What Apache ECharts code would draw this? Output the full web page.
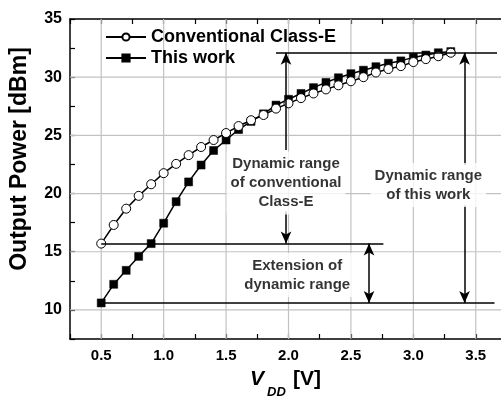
<!DOCTYPE html>
<html lang="en">
  <head>
    <meta charset="UTF-8" />
    <title>Output power vs VDD</title>
    <style>
      html, body { margin: 0; padding: 0; background: #fff; }
      #main { width: 501px; height: 401px; }
    </style>
  </head>
  <body>
    <div id="main"></div>
    <script src="https://cdn.jsdelivr.net/npm/echarts@6/dist/echarts.min.js"></script>
    <script>
      // supply voltage sweep [V]
      const vdd = [0.5, 0.6, 0.7, 0.8, 0.9, 1.0, 1.1, 1.2, 1.3, 1.4, 1.5, 1.6, 1.7, 1.8, 1.9,
        2.0, 2.1, 2.2, 2.3, 2.4, 2.5, 2.6, 2.7, 2.8, 2.9, 3.0, 3.1, 3.2, 3.3];
      // output power [dBm]
      const conventional = [15.7, 17.3, 18.7, 19.8, 20.8, 21.75, 22.55, 23.3, 24.0, 24.6, 25.2, 25.8,
        26.3, 26.75, 27.3, 27.75, 28.2, 28.6, 28.95, 29.3, 29.65, 30.0, 30.4, 30.7, 30.95, 31.3,
        31.55, 31.8, 32.1];
      const thisWork = [10.6, 12.2, 13.4, 14.6, 15.7, 17.45, 19.3, 21.0, 22.45, 23.7, 24.6, 25.5,
        26.2, 26.85, 27.6, 28.1, 28.6, 29.1, 29.55, 29.95, 30.3, 30.6, 30.9, 31.2, 31.4, 31.7,
        31.9, 32.1, 32.2];
      const seriesNames = ["Conventional Class-E", "This work"];

      // annotation levels and guide lines (data coords)
      const maxLevel = 32.1, convMin = 15.7, workMin = 10.6;
      const hLines = [
        [1.9, 3.67, maxLevel],
        [0.5, 2.76, convMin],
        [0.5, 3.65, workMin],
      ];
      // [x, yFrom, yTo, symbols]
      const arrows = [
        [1.98, 23.75, maxLevel, ["none", "arrow"]],
        [1.98, 18.45, convMin, ["none", "arrow"]],
        [3.41, 22.46, maxLevel, ["none", "arrow"]],
        [3.41, 19.0, workMin, ["none", "arrow"]],
        [2.645, convMin, workMin, ["arrow", "arrow"]],
      ];
      const notes = [
        [1.98, 20.9, "Dynamic range\nof conventional\nClass-E"],
        [3.12, 20.74, "Dynamic range\nof this work"],
        [2.07, 13.0, "Extension of\ndynamic range"],
      ];

      const xTicks = [0.25, 3.75, 0.25]; // min, max, interval
      const yTicks = [7.5, 35, 2.5];
      const xGrid = [0.5, 1.0, 1.5, 2.0, 2.5, 3.0, 3.5];
      const yGrid = [10, 15, 20, 25, 30];

      const font = "Liberation Sans, Arial, sans-serif";

      var myChart = echarts.init(document.getElementById("main"), null, { renderer: "canvas" });

      const markData = [];
      hLines.forEach(function (h) {
        markData.push([{ coord: [h[0], h[2]], symbol: "none" }, { coord: [h[1], h[2]], symbol: "none" }]);
      });
      arrows.forEach(function (a) {
        markData.push([{ coord: [a[0], a[1]], symbol: a[3][0] }, { coord: [a[0], a[2]], symbol: a[3][1] }]);
      });

      // light grid at the major ticks only, one thin line series each
      const gridSeries = [];
      function gridLine(points) {
        gridSeries.push({
          type: "line",
          data: points,
          symbol: "none",
          showSymbol: false,
          silent: true,
          color: "#c2c2c2",
          lineStyle: { color: "#c2c2c2", width: 1.2, opacity: 1 },
          z: 2,
        });
      }
      xGrid.forEach(function (x) { gridLine([[x, yTicks[0]], [x, yTicks[1]]]); });
      yGrid.forEach(function (y) { gridLine([[xTicks[0], y], [xTicks[1], y]]); });

      const axisCommon = {
        type: "value",
        axisLine: { show: true, onZero: false, lineStyle: { color: "#000", width: 1.5 } },
        axisTick: { show: true, inside: true, length: 5, lineStyle: { color: "#000", width: 1.2 } },
        splitLine: { show: false },
      };

      option = {
        animation: false,
        backgroundColor: "#fff",
        grid: { left: 70, width: 437, top: 19, bottom: 62, outerBoundsMode: "none", containLabel: false },
        legend: {
          data: seriesNames,
          orient: "vertical",
          left: 100,
          top: 23,
          itemWidth: 40,
          itemHeight: 9,
          itemGap: 3,
          textStyle: { fontFamily: font, fontWeight: "bold", fontSize: 18, color: "#000", lineHeight: 18 },
        },
        xAxis: [
          Object.assign({}, axisCommon, {
            min: xTicks[0], max: xTicks[1], interval: xTicks[2],
            axisLabel: {
              margin: 9,
              fontFamily: font, fontWeight: "bold", fontSize: 15, color: "#000",
              formatter: function (v) {
                return Math.abs(v * 2 - Math.round(v * 2)) < 1e-6 ? v.toFixed(1) : "";
              },
            },
          }),
          Object.assign({}, axisCommon, {
            position: "top",
            min: xTicks[0], max: xTicks[1], interval: xTicks[2],
            axisLabel: { show: false },
          }),
        ],
        yAxis: [
          Object.assign({}, axisCommon, {
            min: yTicks[0], max: yTicks[1], interval: yTicks[2],
            axisLabel: {
              margin: 8,
              fontFamily: font, fontWeight: "bold", fontSize: 16, color: "#000",
              formatter: function (v) { return v % 5 === 0 ? String(v) : ""; },
            },
          }),
          Object.assign({}, axisCommon, {
            position: "right",
            min: yTicks[0], max: yTicks[1], interval: yTicks[2],
            axisLabel: { show: false },
          }),
        ],
        graphic: [
          {
            type: "text", x: 20, y: 159, rotation: Math.PI / 2,
            style: { text: "Output Power [dBm]", font: "bold 23px " + font, fill: "#000", textAlign: "center", textVerticalAlign: "middle" },
          },
          {
            type: "text", x: 250, y: 379,
            style: { text: "V", font: "italic bold 21px " + font, fill: "#000", textAlign: "left", textVerticalAlign: "middle" },
          },
          {
            type: "text", x: 267, y: 392,
            style: { text: "DD", font: "italic bold 13px " + font, fill: "#000", textAlign: "left", textVerticalAlign: "middle" },
          },
          {
            type: "text", x: 293, y: 379,
            style: { text: "[V]", font: "bold 21px " + font, fill: "#000", textAlign: "left", textVerticalAlign: "middle" },
          },
        ],
        series: gridSeries.concat([
          {
            name: "This work",
            type: "line",
            data: vdd.map(function (x, i) { return [x, thisWork[i]]; }),
            symbol: "rect",
            symbolSize: 8,
            lineStyle: { color: "#000", width: 1.5 },
            itemStyle: { color: "#000", borderColor: "#000", borderWidth: 0.5 },
            z: 3,
          },
          {
            name: "Conventional Class-E",
            type: "line",
            data: vdd.map(function (x, i) { return [x, conventional[i]]; }),
            symbol: "circle",
            symbolSize: 9,
            lineStyle: { color: "#000", width: 1.5 },
            itemStyle: { color: "#fff", borderColor: "#000", borderWidth: 1 },
            z: 4,
          },
          {
            name: "guides",
            type: "line",
            data: [],
            markLine: {
              silent: true,
              symbolSize: [8, 12],
              label: { show: false },
              lineStyle: { color: "#000", width: 1.5, type: "solid" },
              data: markData,
              animation: false,
            },
            z: 5,
          },
          {
            name: "notes",
            type: "scatter",
            symbolSize: 0,
            data: notes,
            label: {
              show: true,
              position: "inside",
              formatter: function (p) { return p.data[2]; },
              fontFamily: font, fontWeight: "bold", fontSize: 15, color: "#000",
              lineHeight: 19, align: "center",
              backgroundColor: "#fff",
              padding: [3, 4],
            },
            z: 6,
          },
        ]),
      };

      myChart.setOption(option);
    </script>
  </body>
</html>
